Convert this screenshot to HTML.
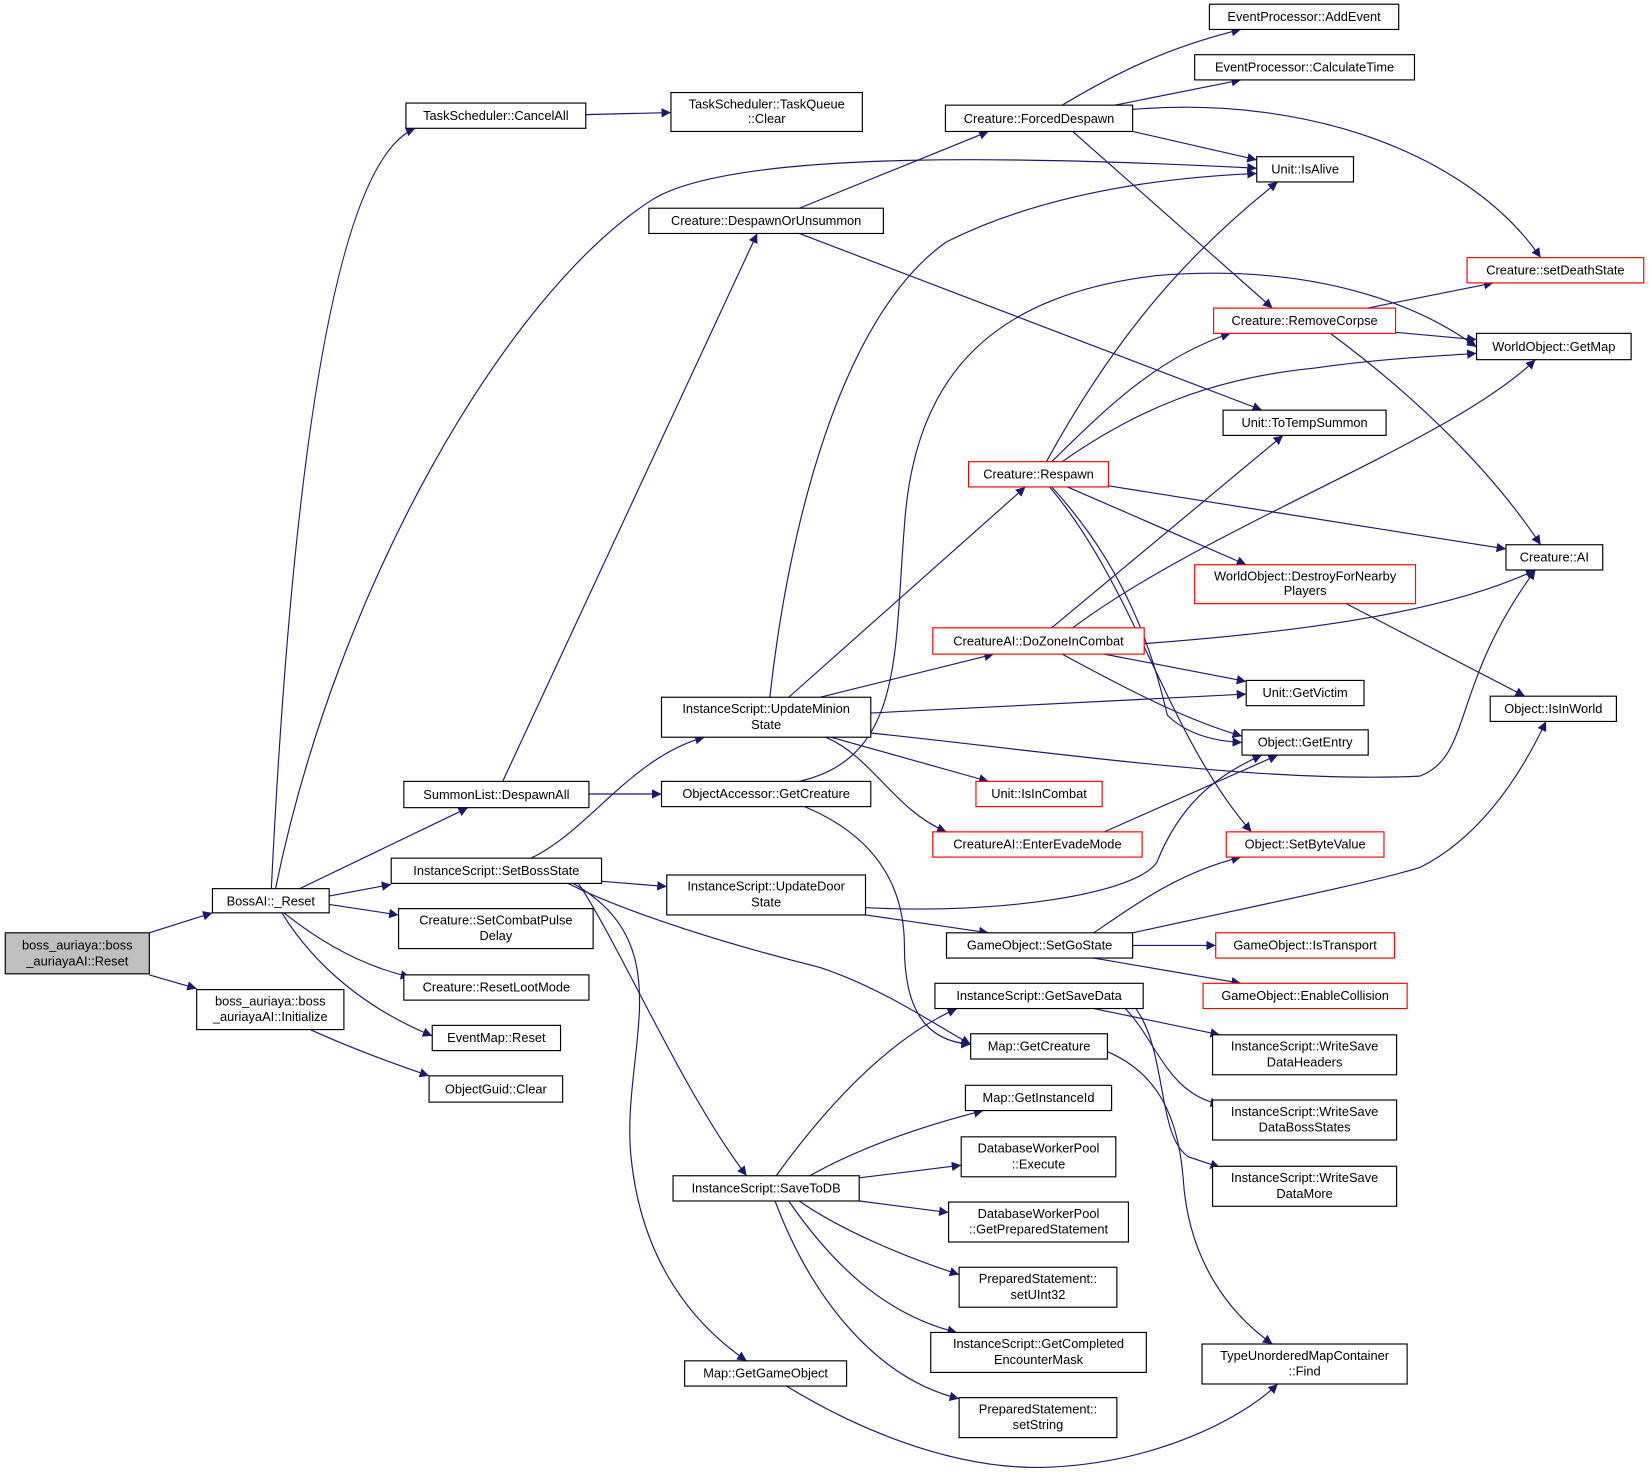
<!DOCTYPE html>
<html><head><meta charset="utf-8"><style>
html,body{margin:0;padding:0;background:#fff;}
svg{display:block;}
text{font-family:"Liberation Sans",sans-serif;font-size:12.2px;fill:#000;}
</style></head><body>
<svg width="1649" height="1474" viewBox="0 0 1568 1401.6" preserveAspectRatio="none" xmlns="http://www.w3.org/2000/svg">
<defs><marker id="a" viewBox="0 0 10 10" refX="10" refY="5" markerWidth="9" markerHeight="9" markerUnits="userSpaceOnUse" orient="auto"><path d="M0,0 L10,5 L0,10 z" fill="#191970"/></marker></defs>
<g fill="none" stroke="#191970" stroke-width="1.1" marker-end="url(#a)">
<path d="M142,887 L202,868"/>
<path d="M142,927 L187,940"/>
<path d="M258,845 C270,600 300,160 395,122"/>
<path d="M262,845 C320,560 480,280 620,190 C700,140 1000,150 1195,160"/>
<path d="M285,845 L445,768"/>
<path d="M313,852 L372,841"/>
<path d="M313,860 L379,870"/>
<path d="M270,868 C310,900 350,920 390,929"/>
<path d="M268,868 C300,920 350,960 411,985"/>
<path d="M295,979 C330,995 370,1010 408,1023"/>
<path d="M557,109 L638,107"/>
<path d="M478,743 L720,222"/>
<path d="M560,755 L629,755"/>
<path d="M505,816 C560,790 600,720 670,701"/>
<path d="M572,838 L634,843"/>
<path d="M540,840 C600,870 700,900 780,920 C840,940 890,975 923,993"/>
<path d="M550,840 C590,900 650,1040 710,1118"/>
<path d="M545,840 C650,900 590,1000 600,1100 C610,1200 660,1260 710,1294"/>
<path d="M760,198 L940,125"/>
<path d="M760,222 L1200,390"/>
<path d="M732,663 C750,500 800,300 900,230 C1000,180 1120,168 1195,165"/>
<path d="M750,663 L975,463"/>
<path d="M780,663 L945,622"/>
<path d="M828,678 L1185,660"/>
<path d="M828,697 C1000,715 1200,745 1350,738 C1400,720 1380,650 1460,542"/>
<path d="M790,701 L940,743"/>
<path d="M785,701 C830,720 850,770 900,791"/>
<path d="M760,743 C860,720 850,620 860,500 C870,350 950,280 1100,262 C1250,250 1350,290 1404,330"/>
<path d="M765,767 C820,790 860,830 860,900 C860,960 880,990 923,993"/>
<path d="M823,863 C950,870 1080,850 1100,820 C1120,770 1150,740 1200,718"/>
<path d="M823,870 L940,887"/>
<path d="M738,1118 C780,1060 840,990 910,959"/>
<path d="M770,1118 C820,1090 880,1070 935,1056"/>
<path d="M817,1120 L914,1108"/>
<path d="M817,1142 L902,1153"/>
<path d="M760,1142 C800,1170 860,1195 912,1212"/>
<path d="M750,1142 C790,1200 840,1250 910,1267"/>
<path d="M737,1142 C770,1230 830,1310 912,1330"/>
<path d="M748,1318 C800,1350 900,1400 1000,1395 C1100,1390 1180,1350 1215,1316"/>
<path d="M1010,100 C1060,70 1110,45 1180,28"/>
<path d="M1060,100 L1180,76"/>
<path d="M1077,104 C1250,90 1400,150 1465,245"/>
<path d="M1077,125 L1195,152"/>
<path d="M1020,125 L1210,293"/>
<path d="M995,439 C1060,320 1130,240 1215,173"/>
<path d="M1000,439 C1050,390 1100,340 1170,317"/>
<path d="M1010,439 C1080,390 1150,360 1250,350 C1320,340 1380,338 1404,336"/>
<path d="M1054,462 L1432,522"/>
<path d="M1015,463 L1185,537"/>
<path d="M1000,463 C1080,550 1100,640 1110,680 C1130,700 1160,705 1181,706"/>
<path d="M998,463 C1080,560 1110,700 1190,791"/>
<path d="M1000,597 L1220,414"/>
<path d="M1020,597 C1150,500 1380,420 1460,342"/>
<path d="M1088,612 C1250,600 1380,580 1460,542"/>
<path d="M1050,622 L1185,648"/>
<path d="M1010,622 C1080,660 1130,685 1181,700"/>
<path d="M1300,293 L1420,269"/>
<path d="M1327,316 L1404,323"/>
<path d="M1265,317 C1350,380 1420,450 1465,518"/>
<path d="M1280,574 L1450,662"/>
<path d="M1050,791 L1215,718"/>
<path d="M1040,887 C1080,860 1120,830 1180,815"/>
<path d="M1077,887 C1200,860 1300,840 1350,825 C1400,800 1440,750 1470,686"/>
<path d="M1077,899 L1156,899"/>
<path d="M1040,911 L1180,935"/>
<path d="M1040,959 L1160,984"/>
<path d="M1070,959 C1100,990 1110,1040 1160,1050"/>
<path d="M1080,959 C1110,1000 1100,1080 1130,1100 L1160,1110"/>
<path d="M1053,1000 C1100,1020 1120,1060 1125,1120 C1130,1200 1170,1250 1210,1278"/>
</g>
<g stroke-width="1.1" text-anchor="middle">
<rect x="5" y="887" width="137" height="39" fill="#bfbfbf" stroke="#000"/><text x="73.5" y="903">boss_auriaya::boss</text><text x="73.5" y="918">_auriayaAI::Reset</text>
<rect x="202" y="845" width="111" height="23" fill="#fff" stroke="#000"/><text x="257.5" y="861">BossAI::_Reset</text>
<rect x="187" y="941" width="140" height="38" fill="#fff" stroke="#000"/><text x="257" y="956">boss_auriaya::boss</text><text x="257" y="971">_auriayaAI::Initialize</text>
<rect x="386" y="98" width="171" height="24" fill="#fff" stroke="#000"/><text x="471.5" y="114">TaskScheduler::CancelAll</text>
<rect x="638" y="88" width="182" height="37" fill="#fff" stroke="#000"/><text x="729" y="103">TaskScheduler::TaskQueue</text><text x="729" y="117">::Clear</text>
<rect x="384" y="743" width="176" height="25" fill="#fff" stroke="#000"/><text x="472" y="760">SummonList::DespawnAll</text>
<rect x="372" y="816" width="200" height="24" fill="#fff" stroke="#000"/><text x="472" y="832">InstanceScript::SetBossState</text>
<rect x="379" y="864" width="185" height="38" fill="#fff" stroke="#000"/><text x="471.5" y="879">Creature::SetCombatPulse</text><text x="471.5" y="894">Delay</text>
<rect x="384" y="927" width="176" height="24" fill="#fff" stroke="#000"/><text x="472" y="943">Creature::ResetLootMode</text>
<rect x="411" y="975" width="122" height="24" fill="#fff" stroke="#000"/><text x="472" y="991">EventMap::Reset</text>
<rect x="408" y="1023" width="127" height="25" fill="#fff" stroke="#000"/><text x="471.5" y="1040">ObjectGuid::Clear</text>
<rect x="617" y="198" width="223" height="24" fill="#fff" stroke="#000"/><text x="728.5" y="214">Creature::DespawnOrUnsummon</text>
<rect x="629" y="663" width="199" height="38" fill="#fff" stroke="#000"/><text x="728.5" y="678">InstanceScript::UpdateMinion</text><text x="728.5" y="693">State</text>
<rect x="629" y="743" width="199" height="24" fill="#fff" stroke="#000"/><text x="728.5" y="759">ObjectAccessor::GetCreature</text>
<rect x="634" y="832" width="189" height="38" fill="#fff" stroke="#000"/><text x="728.5" y="847">InstanceScript::UpdateDoor</text><text x="728.5" y="862">State</text>
<rect x="640" y="1118" width="177" height="24" fill="#fff" stroke="#000"/><text x="728.5" y="1134">InstanceScript::SaveToDB</text>
<rect x="651" y="1294" width="154" height="24" fill="#fff" stroke="#000"/><text x="728" y="1310">Map::GetGameObject</text>
<rect x="899" y="100" width="178" height="25" fill="#fff" stroke="#000"/><text x="988" y="117">Creature::ForcedDespawn</text>
<rect x="921" y="439" width="133" height="24" fill="#fff" stroke="#f00"/><text x="987.5" y="455">Creature::Respawn</text>
<rect x="887" y="597" width="201" height="25" fill="#fff" stroke="#f00"/><text x="987.5" y="614">CreatureAI::DoZoneInCombat</text>
<rect x="928" y="743" width="120" height="24" fill="#fff" stroke="#f00"/><text x="988" y="759">Unit::IsInCombat</text>
<rect x="887" y="791" width="199" height="24" fill="#fff" stroke="#f00"/><text x="986.5" y="807">CreatureAI::EnterEvadeMode</text>
<rect x="900" y="887" width="177" height="24" fill="#fff" stroke="#000"/><text x="988.5" y="903">GameObject::SetGoState</text>
<rect x="889" y="935" width="198" height="24" fill="#fff" stroke="#000"/><text x="988" y="951">InstanceScript::GetSaveData</text>
<rect x="923" y="983" width="130" height="24" fill="#fff" stroke="#000"/><text x="988" y="999">Map::GetCreature</text>
<rect x="918" y="1032" width="139" height="24" fill="#fff" stroke="#000"/><text x="987.5" y="1048">Map::GetInstanceId</text>
<rect x="914" y="1081" width="147" height="38" fill="#fff" stroke="#000"/><text x="987.5" y="1096">DatabaseWorkerPool</text><text x="987.5" y="1111">::Execute</text>
<rect x="902" y="1143" width="171" height="38" fill="#fff" stroke="#000"/><text x="987.5" y="1158">DatabaseWorkerPool</text><text x="987.5" y="1173">::GetPreparedStatement</text>
<rect x="912" y="1205" width="150" height="38" fill="#fff" stroke="#000"/><text x="987" y="1220">PreparedStatement::</text><text x="987" y="1235">setUInt32</text>
<rect x="885" y="1267" width="205" height="38" fill="#fff" stroke="#000"/><text x="987.5" y="1282">InstanceScript::GetCompleted</text><text x="987.5" y="1297">EncounterMask</text>
<rect x="912" y="1329" width="150" height="38" fill="#fff" stroke="#000"/><text x="987" y="1344">PreparedStatement::</text><text x="987" y="1359">setString</text>
<rect x="1150" y="4" width="180" height="24" fill="#fff" stroke="#000"/><text x="1240" y="20">EventProcessor::AddEvent</text>
<rect x="1136" y="52" width="209" height="24" fill="#fff" stroke="#000"/><text x="1240.5" y="68">EventProcessor::CalculateTime</text>
<rect x="1195" y="149" width="92" height="24" fill="#fff" stroke="#000"/><text x="1241" y="165">Unit::IsAlive</text>
<rect x="1395" y="245" width="168" height="24" fill="#fff" stroke="#f00"/><text x="1479" y="261">Creature::setDeathState</text>
<rect x="1154" y="293" width="173" height="24" fill="#fff" stroke="#f00"/><text x="1240.5" y="309">Creature::RemoveCorpse</text>
<rect x="1404" y="317" width="147" height="25" fill="#fff" stroke="#000"/><text x="1477.5" y="334">WorldObject::GetMap</text>
<rect x="1163" y="390" width="155" height="24" fill="#fff" stroke="#000"/><text x="1240.5" y="406">Unit::ToTempSummon</text>
<rect x="1432" y="518" width="92" height="24" fill="#fff" stroke="#000"/><text x="1478" y="534">Creature::AI</text>
<rect x="1136" y="537" width="210" height="37" fill="#fff" stroke="#f00"/><text x="1241" y="552">WorldObject::DestroyForNearby</text><text x="1241" y="566">Players</text>
<rect x="1185" y="647" width="112" height="24" fill="#fff" stroke="#000"/><text x="1241" y="663">Unit::GetVictim</text>
<rect x="1181" y="694" width="120" height="24" fill="#fff" stroke="#000"/><text x="1241" y="710">Object::GetEntry</text>
<rect x="1417" y="662" width="120" height="24" fill="#fff" stroke="#000"/><text x="1477" y="678">Object::IsInWorld</text>
<rect x="1166" y="791" width="150" height="24" fill="#fff" stroke="#f00"/><text x="1241" y="807">Object::SetByteValue</text>
<rect x="1156" y="887" width="170" height="24" fill="#fff" stroke="#f00"/><text x="1241" y="903">GameObject::IsTransport</text>
<rect x="1144" y="935" width="194" height="24" fill="#fff" stroke="#f00"/><text x="1241" y="951">GameObject::EnableCollision</text>
<rect x="1153" y="984" width="175" height="38" fill="#fff" stroke="#000"/><text x="1240.5" y="999">InstanceScript::WriteSave</text><text x="1240.5" y="1014">DataHeaders</text>
<rect x="1153" y="1046" width="175" height="38" fill="#fff" stroke="#000"/><text x="1240.5" y="1061">InstanceScript::WriteSave</text><text x="1240.5" y="1076">DataBossStates</text>
<rect x="1153" y="1109" width="175" height="38" fill="#fff" stroke="#000"/><text x="1240.5" y="1124">InstanceScript::WriteSave</text><text x="1240.5" y="1139">DataMore</text>
<rect x="1143" y="1278" width="195" height="38" fill="#fff" stroke="#000"/><text x="1240.5" y="1293">TypeUnorderedMapContainer</text><text x="1240.5" y="1308">::Find</text>
</g>
</svg>
</body></html>
